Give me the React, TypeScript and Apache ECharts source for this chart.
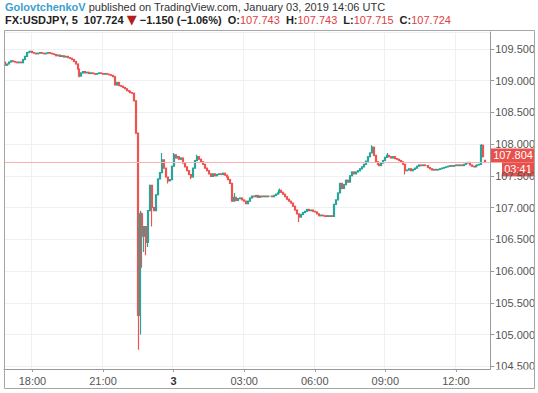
import { useEffect, useRef } from "react";
import * as echarts from "echarts";

// ---------- data ----------
const START_HOUR = 16;
const START_MINUTE = 50;
const BAR_MINUTES = 5;
const SLOT_COUNT = 248; // category slots on the time axis (last two are empty space)

const FIRST_OPEN = 109.29;

// 5-minute closes
const CLOSES = [
  109.24, 109.26, 109.29, 109.31, 109.30, 109.29, 109.28, 109.29, 109.28, 109.33,
  109.38, 109.44, 109.45, 109.46, 109.44, 109.43, 109.42, 109.43, 109.44, 109.43,
  109.42, 109.43, 109.44, 109.43, 109.42, 109.41, 109.39, 109.40, 109.38, 109.39,
  109.37, 109.38, 109.36, 109.35, 109.33, 109.30, 109.26, 109.18, 109.07, 109.12,
  109.14, 109.12, 109.13, 109.11, 109.12, 109.11, 109.10, 109.11, 109.12, 109.11,
  109.10, 109.11, 109.10, 109.09, 109.08, 109.06, 108.93, 108.97, 108.92, 108.91,
  108.89, 108.87, 108.84, 108.83, 108.81, 108.80, 108.68, 108.17, 105.30, 106.90,
  106.55, 106.70, 106.45, 106.95, 107.35, 107.00, 106.95, 107.20, 107.45, 107.55,
  107.75, 107.62, 107.48, 107.42, 107.44, 107.65, 107.83, 107.78, 107.80, 107.76,
  107.78, 107.70, 107.64, 107.58, 107.52, 107.48, 107.62, 107.74, 107.80, 107.76,
  107.72, 107.68, 107.62, 107.58, 107.53, 107.49, 107.53, 107.50, 107.52, 107.53,
  107.52, 107.54, 107.51, 107.48, 107.44, 107.38, 107.10, 107.16, 107.11, 107.14,
  107.15, 107.12, 107.10, 107.06, 107.10, 107.15, 107.18, 107.17, 107.19, 107.16,
  107.18, 107.17, 107.18, 107.17, 107.18, 107.18, 107.17, 107.19, 107.21, 107.23,
  107.27, 107.24, 107.21, 107.17, 107.13, 107.10, 107.07, 107.02, 106.96, 106.90,
  106.85, 106.89, 106.92, 106.94, 106.97, 106.95, 106.96, 106.94, 106.93, 106.90,
  106.87, 106.88, 106.87, 106.86, 106.87, 106.86, 106.87, 106.86, 107.05, 107.12,
  107.23, 107.38, 107.30, 107.36, 107.43, 107.40, 107.50, 107.56, 107.53, 107.56,
  107.58, 107.61, 107.64, 107.68, 107.73, 107.80, 107.86, 107.95, 107.82, 107.72,
  107.68, 107.66, 107.70, 107.74, 107.79, 107.82, 107.80, 107.78, 107.80, 107.77,
  107.76, 107.74, 107.72, 107.68, 107.58, 107.59, 107.61, 107.58, 107.60, 107.62,
  107.65, 107.67, 107.66, 107.67, 107.66, 107.66, 107.63, 107.61, 107.59, 107.60,
  107.59, 107.60, 107.61, 107.62, 107.63, 107.64, 107.65, 107.66, 107.65, 107.66,
  107.67, 107.66, 107.67, 107.66, 107.68, 107.70, 107.71, 107.67, 107.65, 107.64,
  107.66, 107.67, 107.68, 107.98, 107.80, 107.724,
];

// visible wicks: [bar index, low, high]
const WICKS: [number, number | null, number | null][] = [
  [38, 109.05, null],
  [68, 104.76, 108.17],
  [69, 105.0, 106.95],
  [70, 106.05, 106.92],
  [71, 106.3, null],
  [72, 106.25, null],
  [73, 106.38, null],
  [75, 106.7, null],
  [80, null, 107.86],
  [83, 107.38, null],
  [86, null, 107.86],
  [95, 107.45, null],
  [98, null, 107.83],
  [117, null, 107.23],
  [140, null, 107.3],
  [150, 106.77, null],
  [187, null, 107.98],
  [195, null, 107.86],
  [204, 107.52, null],
  [243, null, 108.0],
];

const LAST_BAR = { open: 107.743, high: 107.743, low: 107.715, close: 107.724 };
const CHANGE = "\u22121.150";
const CHANGE_PCT = "(\u22121.06%)";
const SYMBOL = "FX:USDJPY, 5";
const AUTHOR = "GolovtchenkoV";
const PUBLISHED = " published on TradingView.com, January 03, 2019 14:06 UTC";

const X_TICK_LABELS: Record<string, string> = {
  "18:00": "18:00",
  "21:00": "21:00",
  "00:00": "3",
  "03:00": "03:00",
  "06:00": "06:00",
  "09:00": "09:00",
  "12:00": "12:00",
};
const DAY_LABEL = "3";

const Y_MIN = 104.457;
const Y_MAX = 109.764;
const TAG_VALUE = 107.804;
const TAG_TEXT = "107.804";
const COUNTDOWN = "03:41";

// ---------- styles ----------
const UP = "#26a69a";
const DOWN = "#ef5350";
const FONT = "Liberation Sans, Arial, sans-serif";

function buildCategories(): string[] {
  const out: string[] = [];
  for (let i = 0; i < SLOT_COUNT; i++) {
    const m = (START_HOUR * 60 + START_MINUTE + i * BAR_MINUTES) % (24 * 60);
    const hh = String(Math.floor(m / 60)).padStart(2, "0");
    const mm = String(m % 60).padStart(2, "0");
    out.push(`${hh}:${mm}`);
  }
  return out;
}

function buildCandles(): (number[] | string)[] {
  const wickMap = new Map<number, [number | null, number | null]>();
  WICKS.forEach(([i, lo, hi]) => wickMap.set(i, [lo, hi]));
  const out: (number[] | string)[] = [];
  let prev = FIRST_OPEN;
  CLOSES.forEach((c, i) => {
    let o = prev;
    let lo = Math.min(o, c);
    let hi = Math.max(o, c);
    if (i === CLOSES.length - 1) {
      o = LAST_BAR.open;
      lo = LAST_BAR.low;
      hi = LAST_BAR.high;
    }
    const w = wickMap.get(i);
    if (w) {
      if (w[0] !== null) lo = Math.min(lo, w[0]);
      if (w[1] !== null) hi = Math.max(hi, w[1]);
    }
    out.push([o, c, lo, hi]);
    prev = c;
  });
  while (out.length < SLOT_COUNT) out.push("-");
  return out;
}

export default function App() {
  const ref = useRef<HTMLDivElement>(null);

  useEffect(() => {
    if (!ref.current) return;
    const chart = echarts.init(ref.current, undefined, { renderer: "svg" });
    const categories = buildCategories();
    const isTick = (_i: number, v: string) => Object.prototype.hasOwnProperty.call(X_TICK_LABELS, v);

    const header2 =
      `{k|${SYMBOL}}{k|  ${LAST_BAR.close.toFixed(3)} }{d|\u25BC}{k| ${CHANGE} ${CHANGE_PCT}}` +
      `{k|  O:}{v|${LAST_BAR.open.toFixed(3)}}{k|  H:}{v|${LAST_BAR.high.toFixed(3)}}` +
      `{k|  L:}{v|${LAST_BAR.low.toFixed(3)}}{k|  C:}{v|${LAST_BAR.close.toFixed(3)}}`;

    const baseGraphic: any[] = [
      {
        type: "text",
        left: 5,
        top: 1,
        style: {
          text: `{a|${AUTHOR}}{b|${PUBLISHED}}`,
          rich: {
            a: { fill: "#3b9fd0", fontWeight: "bold", fontSize: 11, fontFamily: FONT },
            b: { fill: "#333333", fontSize: 11, fontFamily: FONT },
          },
        },
      },
      {
        type: "text",
        left: 5,
        top: 13,
        style: {
          text: header2,
          rich: {
            k: { fill: "#222222", fontWeight: "bold", fontSize: 11, fontFamily: FONT },
            v: { fill: "#e0403f", fontSize: 11, fontFamily: FONT },
            d: { fill: "#b3201c", fontSize: 13, fontFamily: "DejaVu Sans, sans-serif" },
          },
        },
      },
      {
        type: "rect",
        z: 50,
        shape: { x: 492, y: 369.5, width: 42, height: 14 },
        style: { fill: "#ffffff" },
      },
      {
        type: "rect",
        z: 60,
        shape: { x: 4.5, y: 30.5, width: 530, height: 358 },
        style: { fill: "none", stroke: "#a5a5a5", lineWidth: 1 },
      },
    ];

    chart.setOption({
      animation: false,
      backgroundColor: "#ffffff",
      grid: { left: 4, right: 47, top: 32, bottom: 24 },
      xAxis: {
        type: "category",
        data: categories,
        boundaryGap: true,
        axisLine: { show: true, lineStyle: { color: "#9a9a9a", width: 1 } },
        axisTick: {
          show: true,
          alignWithLabel: true,
          interval: isTick,
          length: 3,
          lineStyle: { color: "#9a9a9a" },
        },
        axisLabel: {
          interval: isTick,
          formatter: (v: string) => {
            const t = X_TICK_LABELS[v] ?? "";
            return t === DAY_LABEL ? `{d|${t}}` : t;
          },
          color: "#555555",
          fontSize: 11,
          fontFamily: FONT,
          margin: 6,
          rich: { d: { fontWeight: "bold", color: "#333333", fontSize: 11, fontFamily: FONT } },
        },
        splitLine: { show: true, interval: isTick, lineStyle: { color: "#eef0f3", width: 1 } },
      },
      yAxis: {
        type: "value",
        position: "right",
        min: Y_MIN,
        max: Y_MAX,
        splitNumber: 10,
        scale: true,
        axisLine: { show: true, lineStyle: { color: "#9a9a9a", width: 1 } },
        axisTick: { show: true, length: 4, lineStyle: { color: "#9a9a9a" } },
        axisLabel: {
          color: "#555555",
          fontSize: 11,
          fontFamily: FONT,
          margin: 5,
          showMinLabel: false,
          showMaxLabel: false,
          formatter: (v: number) => v.toFixed(3),
        },
        splitLine: { show: true, lineStyle: { color: "#eef0f3", width: 1 } },
      },
      series: [
        {
          type: "candlestick",
          data: buildCandles(),
          barWidth: 1.5,
          itemStyle: {
            color: UP,
            color0: DOWN,
            borderColor: UP,
            borderColor0: DOWN,
            borderWidth: 1.2,
          },
          markLine: {
            silent: true,
            symbol: "none",
            label: { show: false },
            lineStyle: { color: "#f6b3b1", width: 1, type: "solid" },
            data: [{ yAxis: LAST_BAR.close }],
          },
        },
      ],
      graphic: baseGraphic,
    });

    const tagY = chart.convertToPixel({ yAxisIndex: 0 }, TAG_VALUE) as number;
    const tagGroup = {
      type: "group",
      z: 70,
      children: [
        {
          type: "rect",
          shape: { x: 491, y: tagY - 8, width: 44, height: 14 },
          style: { fill: "#e9504c" },
        },
        {
          type: "text",
          x: 513,
          y: tagY - 1,
          style: {
            text: TAG_TEXT,
            fill: "#ffffff",
            fontSize: 11,
            fontFamily: FONT,
            align: "center",
            verticalAlign: "middle",
          },
        },
        {
          type: "rect",
          shape: { x: 502, y: tagY + 6, width: 32, height: 14 },
          style: { fill: "#e9504c" },
        },
        {
          type: "text",
          x: 518,
          y: tagY + 13,
          style: {
            text: COUNTDOWN,
            fill: "#ffffff",
            fontSize: 11,
            fontFamily: FONT,
            align: "center",
            verticalAlign: "middle",
          },
        },
      ],
    };
    chart.setOption({ graphic: [...baseGraphic, tagGroup] }, { replaceMerge: ["graphic"] });

    return () => chart.dispose();
  }, []);

  return <div ref={ref} style={{ width: 538, height: 393, position: "absolute", left: 0, top: 0 }} />;
}
